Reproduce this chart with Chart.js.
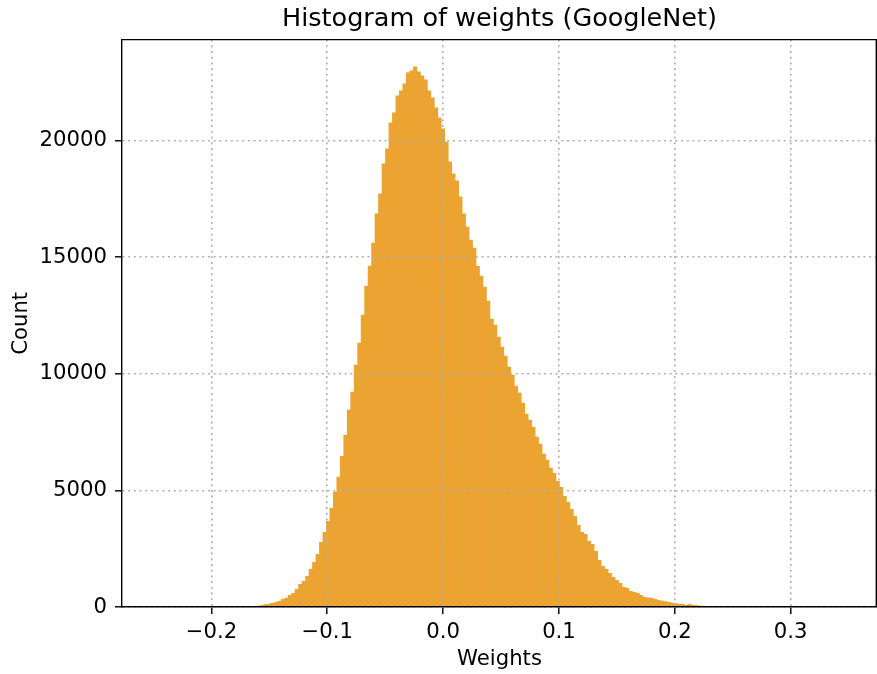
<!DOCTYPE html>
<html>
<head>
<meta charset="utf-8">
<title>Histogram of weights (GoogleNet)</title>
<script src="https://cdn.jsdelivr.net/npm/chart.js@4.4.1/dist/chart.umd.min.js"></script>
<style>
	html, body { margin: 0; padding: 0; background: #fff; }
	#wrap { width: 877px; height: 674px; }
</style>
</head>
<body>
<div id="wrap"><canvas id="weightsHist" width="877" height="674"></canvas></div>
<script>
	// Histogram bins: first bin edge, bin width, and the count in each bin
	const binStart = -0.2477;
	const binWidth = 0.003;
	const counts = [
		1, 0, 0, 1, 0, 1, 1, 2, 1, 2,
		3, 2, 3, 4, 4, 5, 6, 7, 8, 9,
		10, 11, 13, 14, 16, 20, 28, 36, 45, 55,
		75, 115, 140, 170, 215, 260, 340, 400, 515, 600,
		770, 990, 1120, 1330, 1630, 1930, 2270, 2790, 3220, 3690,
		4250, 4940, 5580, 6480, 7380, 8455, 9228, 10387, 11331, 12533,
		13777, 14636, 15623, 16868, 17726, 19014, 19657, 20773, 21202, 21932,
		22146, 22447, 22919, 23005, 23177, 22962, 22790, 22619, 22146, 21846,
		21417, 20988, 20516, 19958, 19099, 18584, 18284, 17597, 16868, 16310,
		15752, 15408, 14636, 14207, 13734, 13134, 12361, 12104, 11588, 11159,
		10773, 10301, 9958, 9485, 9185, 8756, 8284, 8026, 7726, 7297,
		6996, 6567, 6309, 5966, 5751, 5408, 5150, 4764, 4507, 4206,
		3906, 3519, 3219, 3133, 2833, 2704, 2404, 2017, 1760, 1631,
		1459, 1288, 1159, 1030, 858, 815, 687, 644, 601, 515,
		429, 410, 395, 343, 300, 265, 250, 215, 180, 165,
		135, 125, 86, 129, 90, 80, 50, 45, 42, 38,
		35, 30, 18, 14, 12, 10, 8, 7, 6, 5,
		4, 4, 3, 3, 2, 2, 2, 1, 1, 1,
		1, 1, 0, 1, 0, 0, 1, 0, 0, 0,
		0, 1, 0, 0, 0, 0, 1
	];

	// Axis ticks and limits
	const xTicks = [-0.2, -0.1, 0.0, 0.1, 0.2, 0.3];
	const yTicks = [0, 5000, 10000, 15000, 20000];
	const xLimits = [-0.2772, 0.3745];
	const yLimits = [0, 24330];

	const FONT = 'DejaVu Sans';
	const LABEL_SIZE = 21.2;
	const BAR_COLOR = '#eba331';
	const GRID_COLOR = '#b0b0b0';

	const points = counts.map((c, i) => ({ x: binStart + binWidth * (i + 0.5), y: c }));

	// top and right spines of the axes box
	const frame = {
		id: 'frame',
		afterDraw(chart) {
			const { ctx, chartArea: a } = chart;
			ctx.save();
			ctx.strokeStyle = '#000';
			ctx.lineWidth = 1.4;
			ctx.beginPath();
			ctx.moveTo(a.left, a.top);
			ctx.lineTo(a.right - 0.7, a.top);
			ctx.lineTo(a.right - 0.7, a.bottom);
			ctx.stroke();
			ctx.restore();
		}
	};

	function fmtX(v) {
		const s = Math.abs(v).toFixed(1);
		return v < -1e-9 ? '\u2212' + s : s;
	}

	const gridOpts = {
		color: GRID_COLOR,
		lineWidth: 1.6,
		z: 1,
		offset: false,
		drawTicks: true,
		tickLength: 7,
		tickColor: '#000',
		tickWidth: 1.4,
		tickBorderDash: []
	};

	new Chart(document.getElementById('weightsHist'), {
		type: 'bar',
		data: {
			datasets: [{
				label: 'Count',
				data: points,
				backgroundColor: BAR_COLOR,
				borderWidth: 0,
				// slight overlap so neighbouring bins join without seams
				barPercentage: 1.25,
				categoryPercentage: 1,
				inflateAmount: 0
			}]
		},
		options: {
			responsive: false,
			devicePixelRatio: 1,
			animation: false,
			layout: { padding: 0 },
			plugins: {
				legend: { display: false },
				tooltip: { enabled: false },
				title: {
					display: true,
					fullSize: false,
					text: 'Histogram of weights (GoogleNet)',
					color: '#000',
					font: { family: FONT, size: 25.5, weight: 'normal' },
					padding: { top: 4, bottom: 5 }
				}
			},
			scales: {
				x: {
					type: 'linear',
					min: xLimits[0],
					max: xLimits[1],
					offset: false,
					afterBuildTicks: s => { s.ticks = xTicks.map(v => ({ value: v })); },
					afterFit: s => { s.height = 67; },
					grid: gridOpts,
					border: { display: true, color: '#000', width: 1.4, dash: [2, 3.7], z: 2 },
					ticks: {
						color: '#000',
						padding: 5.5,
						maxRotation: 0,
						autoSkip: false,
						font: { family: FONT, size: LABEL_SIZE },
						callback: v => fmtX(v)
					},
					title: {
						display: true,
						text: 'Weights',
						color: '#000',
						font: { family: FONT, size: LABEL_SIZE },
						padding: { top: 0, bottom: 1.5 }
					}
				},
				y: {
					type: 'linear',
					min: yLimits[0],
					max: yLimits[1],
					afterBuildTicks: s => { s.ticks = yTicks.map(v => ({ value: v })); },
					afterFit: s => { s.width = 122; },
					grid: gridOpts,
					border: { display: true, color: '#000', width: 1.4, dash: [2, 3.7], z: 2 },
					ticks: {
						color: '#000',
						padding: 8,
						autoSkip: false,
						font: { family: FONT, size: LABEL_SIZE },
						callback: v => String(v)
					},
					title: {
						display: true,
						text: 'Count',
						color: '#000',
						font: { family: FONT, size: LABEL_SIZE },
						padding: { top: 8.5, bottom: 0 }
					}
				}
			}
		},
		plugins: [frame]
	});
</script>
</body>
</html>
